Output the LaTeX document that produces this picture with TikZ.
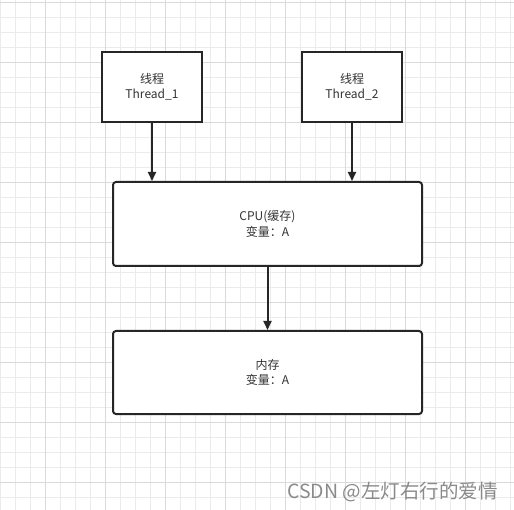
\documentclass[tikz,border=0pt]{standalone}
\usepackage{fontspec}
\setmainfont{Noto Sans CJK SC}
\usetikzlibrary{arrows.meta}
\definecolor{gridminor}{HTML}{EBEBEB}
\definecolor{gridmajor}{HTML}{DADADA}
\definecolor{boxline}{HTML}{262626}
\definecolor{txt}{HTML}{333333}
\definecolor{wm}{HTML}{8A8A8A}
\tikzset{
  gminor/.style={draw=gridminor,line width=0.8pt},
  gmajor/.style={draw=gridmajor,line width=0.9pt},
  thbox/.style={draw=boxline,line width=2pt,fill=white,minimum width=100pt,minimum height=70pt,align=center,text=txt,font=\fontsize{12}{15.5}\selectfont,inner sep=0pt},
  bigbox/.style={draw=boxline,line width=2pt,fill=white,rounded corners=3pt,minimum width=309pt,minimum height=84pt,align=center,text=txt,font=\fontsize{12}{15.5}\selectfont,inner sep=0pt},
  conn/.style={draw=boxline,line width=2pt,-{Triangle[length=9pt,width=8pt]}},
  watermark/.style={text=wm,font=\fontsize{19.5}{21}\selectfont,inner sep=0pt,anchor=west}
}
\begin{document}
\begin{tikzpicture}[x=1pt,y=-1pt]
\useasboundingbox (0,0) rectangle (514,510);
\fill[white] (0,0) rectangle (514,510);
% grid
\foreach \i in {0,...,34} {
  \draw[gminor] (15*\i,0) -- (15*\i,510);
}
\foreach \i in {0,...,34} {
  \draw[gminor] (0,2+15*\i) -- (514,2+15*\i);
}
\foreach \i in {0,...,8} {
  \draw[gmajor] (45+60*\i,0) -- (45+60*\i,510);
  \draw[gmajor] (0,2+60*\i) -- (514,2+60*\i);
}
% nodes
\node[thbox] (t1) at (152,87) {线程\\Thread\_1};
\node[thbox] (t2) at (352,87) {线程\\Thread\_2};
\node[bigbox] (cpu) at (267.5,224) {CPU(缓存)\\变量：A};
\node[bigbox,minimum height=83pt] (mem) at (267.5,372.5) {内存\\变量：A};
% connectors
\draw[conn] (t1.south) -- (t1.south |- cpu.north);
\draw[conn] (t2.south) -- (t2.south |- cpu.north);
\draw[conn] (cpu.south) -- (mem.north);
% watermark
\node[watermark] (wmk) at (287,492) {CSDN @左灯右行的爱情};
\end{tikzpicture}
\end{document}
